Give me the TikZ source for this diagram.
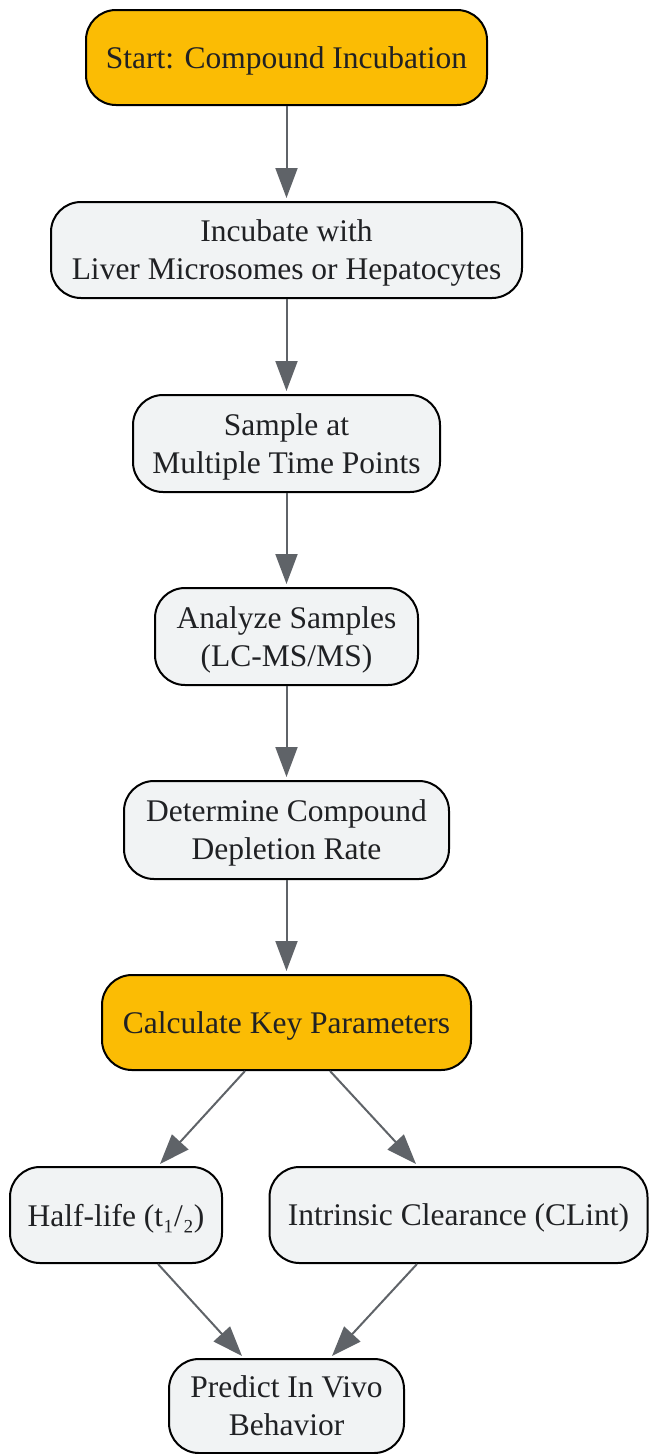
\documentclass[tikz,border=0pt]{standalone}
\usepackage{fontspec}
\setmainfont{Liberation Serif}
\usetikzlibrary{arrows.meta,calc}
\definecolor{ylw}{HTML}{FBBC04}
\definecolor{gfill}{HTML}{F1F3F4}
\definecolor{edgec}{HTML}{5F6368}
\definecolor{txt}{HTML}{202124}
\begin{document}
\begin{tikzpicture}[x=1pt,y=-1pt,
  box/.style={draw=black,line width=2pt,rounded corners=30pt,fill=gfill,align=center,
    text=txt,font=\fontsize{31.5}{38}\selectfont,inner sep=0pt,text depth=0pt},
  hl/.style={box,fill=ylw},
  arr/.style={draw=edgec,line width=2pt,-{Triangle[length=30pt,width=22pt]}}]
\useasboundingbox (0,0) rectangle (649,1454);
\node[hl,minimum width=401pt,minimum height=95pt] (n1) at (286.5,57.5) {Start: Compound Incubation};
\node[box,minimum width=471pt,minimum height=96pt] (n2) at (286.5,250) {Incubate with\\Liver Microsomes or Hepatocytes};
\node[box,minimum width=307pt,minimum height=97pt] (n3) at (286.5,443.5) {Sample at\\Multiple Time Points};
\node[box,minimum width=263pt,minimum height=97pt] (n4) at (286.5,636.5) {Analyze Samples\\(LC-MS/MS)};
\node[box,minimum width=325pt,minimum height=98pt] (n5) at (286.5,830) {Determine Compound\\Depletion Rate};
\node[hl,minimum width=369pt,minimum height=95pt] (n6) at (286.5,1022.5) {Calculate Key Parameters};
\node[box,minimum width=212pt,minimum height=96pt] (n7) at (116,1215) {Half-life (t₁/₂)};
\node[box,minimum width=378pt,minimum height=96pt] (n8) at (458.5,1215) {Intrinsic Clearance (CLint)};
\node[box,minimum width=235pt,minimum height=94pt] (n9) at (286.5,1406) {Predict In Vivo\\Behavior};
\draw[arr,shorten >=3pt] (n1) -- (n2);
\draw[arr,shorten >=3pt] (n2) -- (n3);
\draw[arr,shorten >=3pt] (n3) -- (n4);
\draw[arr,shorten >=3pt] (n4) -- (n5);
\draw[arr,shorten >=3pt] (n5) -- (n6);
\draw[arr] ($(n6.south)+(-41.5,0)$) -- ($(n7.north)+(44,-2)$);
\draw[arr] ($(n6.south)+(43.5,0)$) -- ($(n8.north)+(-42.5,-2)$);
\draw[arr] ($(n7.south)+(42,0)$) -- ($(n9.north)+(-44.5,-2)$);
\draw[arr] ($(n8.south)+(-41.5,0)$) -- ($(n9.north)+(45.5,-2)$);
\end{tikzpicture}
\end{document}
